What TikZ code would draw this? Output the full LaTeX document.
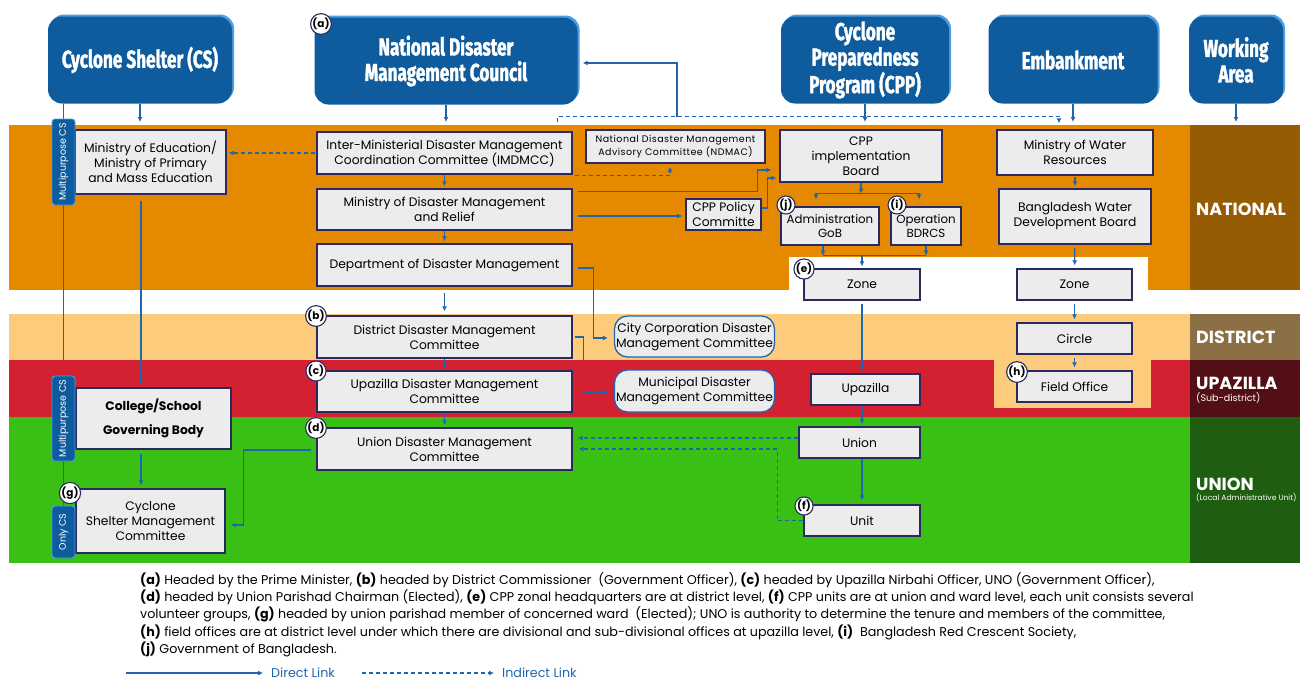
\documentclass[tikz,border=0pt]{standalone}
\usepackage{fontspec}
\setmainfont{Poppins}
\newfontfamily\hdfont{Fira Sans}[FakeStretch=0.7, FakeBold=1.5]
\newfontfamily\spacedfont{Poppins}[LetterSpace=5]
\newcommand\hdrsize{\hdfont\bfseries\fontsize{24.5}{25.5}\selectfont}
\usetikzlibrary{arrows.meta, positioning, calc}

\definecolor{hdblue}{HTML}{0E5C9E}
\definecolor{hdrim}{HTML}{4D9DE0}
\definecolor{boxfill}{HTML}{ECECEC}
\definecolor{boxline}{HTML}{2A2A5E}
\definecolor{linkblue}{HTML}{1F66AF}
\definecolor{natband}{HTML}{E58A00}
\definecolor{natcol}{HTML}{955C04}
\definecolor{disband}{HTML}{FCCB7C}
\definecolor{discol}{HTML}{8B6F45}
\definecolor{upzband}{HTML}{D32132}
\definecolor{upzcol}{HTML}{520F16}
\definecolor{uniband}{HTML}{3AC014}
\definecolor{unicol}{HTML}{1F5D11}

\pgfdeclarelayer{bg}
\pgfsetlayers{bg,main}

\begin{document}
\begin{tikzpicture}[x=1pt, y=-1pt,
	hdr/.style={fill=hdblue, rounded corners=14pt, text=white, align=center, inner sep=0pt,
		minimum height=87pt, font=\hdrsize,
		preaction={fill=hdrim, transform canvas={shift={(2pt,2pt)}}}},
	box/.style={draw=boxline, fill=boxfill, line width=1.3pt, align=center, inner sep=0pt,
		font=\fontsize{12.3}{15}\selectfont},
	rbox/.style={box, draw=linkblue, rounded corners=13pt},
	badge/.style={circle, draw=boxline, fill=white, line width=1.1pt, inner sep=0pt,
		minimum size=18pt, font=\bfseries\fontsize{10.5}{10.5}\selectfont},
	tag/.style={fill=hdblue, draw=hdrim, line width=0.9pt, rounded corners=3pt, rotate=90,
		text=white, inner sep=0pt, minimum height=23pt, font=\fontsize{9.5}{9.5}\selectfont},
	link/.style={draw=linkblue, line width=1.1pt, -{Latex[length=5pt,width=5pt]}},
	ilink/.style={link, dash pattern=on 4pt off 3pt},
	plain/.style={draw=linkblue, line width=1.1pt},
	lvl/.style={text=white, inner sep=0pt, font=\bfseries\fontsize{17.5}{17.5}\selectfont},
	sublvl/.style={text=white, inner sep=0pt, font=\fontsize{7.6}{8}\selectfont},
	note/.style={anchor=base west, inner sep=0pt, font=\fontsize{12.7}{15}\selectfont},
	legtext/.style={anchor=west, inner sep=0pt, text=linkblue, font=\fontsize{12.7}{15}\selectfont}]
\useasboundingbox (0,0) rectangle (1300,681);

% headers
\node[hdr, minimum width=184pt] (cs) at (140,60) {Cyclone Shelter (CS)};
\node[hdr, minimum width=263pt] (ndmc) at (446,61) {National Disaster\\Management Council};
\node[hdr, minimum width=168pt] (cpp) at (865,60) {Cyclone\\Preparedness\\Program (CPP)};
\node[hdr, minimum width=169pt] (emb) at (1073,60) {Embankment};
\node[hdr, minimum width=94pt] (work) at (1236,60) {Working\\Area};
\coordinate (ntop) at (0,125);

% national level
\node[box, minimum width=151pt, minimum height=64pt] (moe) at (150.5,162) {Ministry of Education/\\Ministry of Primary\\and Mass Education};
\node[box, minimum width=255pt, minimum height=42pt] (imdmcc) at (444.5,153) {Inter-Ministerial Disaster Management\\Coordination Committee (IMDMCC)};
\node[box, minimum width=255pt, minimum height=41pt] (modmr) at (444.5,209.5) {Ministry of Disaster Management\\and Relief};
\node[box, minimum width=255pt, minimum height=42pt] (ddm) at (444.5,265) {Department of Disaster Management};
\node[box, minimum width=179pt, minimum height=33pt, font=\spacedfont\fontsize{9.5}{12.5}\selectfont] (ndmac) at (675.5,146.5) {National Disaster Management\\Advisory Committee (NDMAC)};
\node[box, minimum width=75pt, minimum height=31pt] (cpppol) at (723.5,214.5) {CPP Policy\\Committe};
\node[box, minimum width=162pt, minimum height=52pt] (board) at (861,156) {CPP\\implementation\\Board};
\node[box, minimum width=98pt, minimum height=38pt, font=\fontsize{11.8}{14}\selectfont] (admin) at (830,226) {Administration\\GoB};
\node[box, minimum width=70pt, minimum height=38pt, font=\fontsize{11.8}{14}\selectfont] (oper) at (926,226) {Operation\\BDRCS};
\node[box, minimum width=116pt, minimum height=31pt] (zonec) at (862,284.5) {Zone};
\node[box, minimum width=156pt, minimum height=45pt] (mowr) at (1075,152.5) {Ministry of Water\\Resources};
\node[box, minimum width=152pt, minimum height=55pt] (bwdb) at (1075,216.5) {Bangladesh Water\\Development Board};
\node[box, minimum width=115pt, minimum height=31pt] (zonee) at (1074.5,284.5) {Zone};

% district / upazilla / union
\node[box, minimum width=255pt, minimum height=42pt] (ddmc) at (444.5,337) {District Disaster Management\\Committee};
\node[box, minimum width=255pt, minimum height=41pt] (upzdmc) at (444.5,391.5) {Upazilla Disaster Management\\Committee};
\node[box, minimum width=255pt, minimum height=42pt] (udmc) at (444.5,449) {Union Disaster Management\\Committee};
\node[rbox, minimum width=160pt, minimum height=41pt] (city) at (694.5,336.5) {City Corporation Disaster\\Management Committee};
\node[rbox, minimum width=160pt, minimum height=42pt] (muni) at (694.5,391) {Municipal Disaster\\Management Committee};
\node[box, minimum width=115pt, minimum height=31pt] (circ) at (1074.5,338.5) {Circle};
\node[box, minimum width=115pt, minimum height=31pt] (field) at (1074.5,386.5) {Field Office};
\node[box, minimum width=109pt, minimum height=31pt] (upz) at (865.5,389.5) {Upazilla};
\node[box, minimum width=121pt, minimum height=31pt] (union) at (859.5,442.5) {Union};
\node[box, minimum width=116pt, minimum height=31pt] (unit) at (862,520.5) {Unit};
\node[box, minimum width=155pt, minimum height=61pt, font=\bfseries\fontsize{12.3}{15}\selectfont] (college) at (153.5,418.5) {College/School\\[9pt]Governing Body};
\node[box, minimum width=149pt, minimum height=64pt] (csmc) at (150.5,521) {Cyclone\\Shelter Management\\Committee};

% side tags
\node[tag, minimum width=86pt] (tag1) at (63.5,162) {Multipurpose CS};
\node[tag, minimum width=85pt] (tag2) at (63.5,418.5) {Multipurpose CS};
\node[tag, minimum width=52pt] (tag3) at (63.5,532) {Only CS};

% badges
\node[badge] (ba) at (321,24) {(a)};
\node[badge] (bb) at (316,316) {(b)};
\node[badge] (bc) at (316,371) {(c)};
\node[badge] (bd) at (316,428) {(d)};
\node[badge] (be) at (804,269) {(e)};
\node[badge] (bf) at (804,506) {(f)};
\node[badge] (bg) at (70,493) {(g)};
\node[badge] (bh) at (1017,372) {(h)};
\node[badge] (bi) at (897,205) {(i)};
\node[badge] (bj) at (786,205) {(j)};

% working area labels
\node[lvl, anchor=west] (natl) at (1196,209) {NATIONAL};
\node[lvl, anchor=west] (distl) at (1196,337) {DISTRICT};
\node[lvl, anchor=west] (upzl) at (1196,383) {UPAZILLA};
\node[sublvl, below=3pt of upzl.south west, anchor=north west, font=\fontsize{9.5}{10}\selectfont] (upzsub) {(Sub-district)};
\node[lvl, anchor=west] (unil) at (1196,484) {UNION};
\node[sublvl, below=3pt of unil.south west, anchor=north west] (unisub) {(Local Administrative Unit)};

% header arrows
\foreach \h in {cs, ndmc, cpp, emb, work}
	\draw[link, shorten >=3pt] (\h.south) -- (\h.south |- ntop);

% national links
\draw[ilink, shorten <=1pt, shorten >=2pt] (imdmcc.west) -- (moe.east |- imdmcc.west);
\draw[link, shorten >=2pt] (imdmcc) -- (modmr);
\draw[link, shorten >=2pt] (modmr) -- (ddm);
\draw[link, shorten <=6pt, shorten >=4pt] (ddm) -- (ddmc);
\draw[link, shorten >=2pt] (ddmc) -- (upzdmc);
\draw[link, shorten >=2pt] (upzdmc) -- (udmc);
\draw[ilink] ([xshift=2pt,yshift=-1pt]imdmcc.south east) -| ([xshift=-5.5pt,yshift=-3pt]ndmac.south);
\draw[link] ([xshift=5pt,yshift=-3pt]modmr.north east) -- ++(180,0) |- ([xshift=-8pt,yshift=-14pt]board.west);
\draw[link, shorten >=3pt] ([xshift=5pt,yshift=-6.5pt]modmr.east) -- ([yshift=-1.5pt]cpppol.west);
\draw[link] ([yshift=6.5pt]cpppol.east) -- ++(6,0) |- ([xshift=-3pt,yshift=-22pt]board.west);
\coordinate (tap) at (677,117);
\draw[ilink] ([xshift=-15pt,yshift=9pt]imdmcc.north east) -- ++(0,-6) -| ([xshift=-16pt,yshift=6pt]mowr.north);
\draw[link] (tap) |- ([xshift=5pt,yshift=-2pt]ndmc.east);
\draw[link] ([xshift=5pt,yshift=-3pt]ddm.east) -- ++(16,0) |- ([xshift=-6pt,yshift=-1.5pt]city.west);
\draw[link] ([xshift=2pt]ddmc.east) -- ++(9,0) |- ([xshift=-5pt,yshift=-1pt]muni.west);

% cpp chain
\draw[link] (board.south) -- ++(0,11) coordinate (bsplit);
\draw[link] (bsplit) -| ([xshift=-14pt,yshift=7pt]admin.north);
\draw[link] (bsplit) -| ([xshift=-7pt,yshift=7pt]oper.north);
\draw[link] ([xshift=-7pt]admin.south) -- ++(0,10) coordinate (ajoin);
\draw[link] (oper.south) -- ++(0,10) coordinate (ojoin);
\draw[plain] (ajoin) -- (ojoin);
\draw[link, shorten >=2pt] (zonec.north |- ajoin) -- (zonec.north);
\draw[link, shorten <=3pt, shorten >=2pt] (zonec.south) -- (zonec.south |- upz.north);
\draw[link, shorten >=2pt] (zonec.south |- upz.south) -- (zonec.south |- union.north);
\draw[link, shorten >=4pt] (zonec.south |- union.south) -- (zonec.south |- unit.north);
\draw[ilink, shorten >=5pt] ([yshift=4.5pt]union.west) -- ([yshift=11pt]udmc.east);
\draw[ilink] (unit.west) -- ++(-26,0) |- ([xshift=6pt]udmc.east);

% embankment chain
\draw[link, shorten <=1pt, shorten >=2pt] (mowr) -- (bwdb);
\draw[link, shorten <=3pt, shorten >=3pt] (bwdb) -- (zonee);
\draw[link, shorten <=3pt, shorten >=3pt] (zonee) -- (circ);
\draw[link, shorten <=3pt, shorten >=3pt] (circ) -- (field);

% cyclone shelter chain
\draw[link, shorten <=6pt, shorten >=3pt] ([xshift=-9.5pt]moe.south) -- ([xshift=-9.5pt]moe.south |- college.north);
\draw[link, shorten <=4pt, shorten >=3pt] ([xshift=-12.5pt]college.south) -- ([xshift=-12.5pt]college.south |- csmc.north);
\draw[link] ([xshift=-5pt,yshift=-1pt]udmc.west) -- ++(-68,0) |- ([xshift=5pt,yshift=-4pt]csmc.east);

% notes
\node[note] (n1) at (140,584) {\textbf{(a)} Headed by the Prime Minister, \textbf{(b)} headed by District Commissioner\ \ (Government Officer), \textbf{(c)} headed by Upazilla Nirbahi Officer, UNO (Government Officer),};
\node[note] (n2) at (140,601) {\textbf{(d)} headed by Union Parishad Chairman (Elected), \textbf{(e)} CPP zonal headquarters are at district level, \textbf{(f)} CPP units are at union and ward level, each unit consists several};
\node[note] (n3) at (140,618) {volunteer groups, \textbf{(g)} headed by union parishad member of concerned ward\ \ (Elected); UNO is authority to determine the tenure and members of the committee,};
\node[note] (n4) at (140,636) {\textbf{(h)} field offices are at district level under which there are divisional and sub-divisional offices at upazilla level, \textbf{(i)}\ \ Bangladesh Red Crescent Society,};
\node[note] (n5) at (140,653) {\textbf{(j)} Government of Bangladesh.};
\coordinate (dstart) at (126,673);
\node[legtext] (dlink) at (271,673) {Direct Link};
\coordinate (istart) at (362,673);
\node[legtext] (ilinktxt) at (502,673) {Indirect Link};
\draw[link] (dstart) -- ([xshift=-8pt]dlink.west);
\draw[ilink] (istart) -- ([xshift=-8pt]ilinktxt.west);

% bands
\begin{pgfonlayer}{bg}
	\fill[natband] (9,125) rectangle (1190,290);
	\fill[white] (789,257) rectangle (1148,290);
	\fill[natcol] (1190,125) rectangle (1300,290);
	\fill[disband] (9,314) rectangle (1190,360);
	\fill[discol] (1190,314) rectangle (1300,360);
	\fill[upzband] (9,360) rectangle (1190,417);
	\fill[upzcol] (1190,360) rectangle (1300,417);
	\fill[disband] (994,360) rectangle (1151,408);
	\fill[uniband] (9,417) rectangle (1190,563);
	\fill[unicol] (1190,417) rectangle (1300,563);
	\draw[plain] (tag1.center |- cs.south) -- (tag3.center);
\end{pgfonlayer}
\end{tikzpicture}
\end{document}
